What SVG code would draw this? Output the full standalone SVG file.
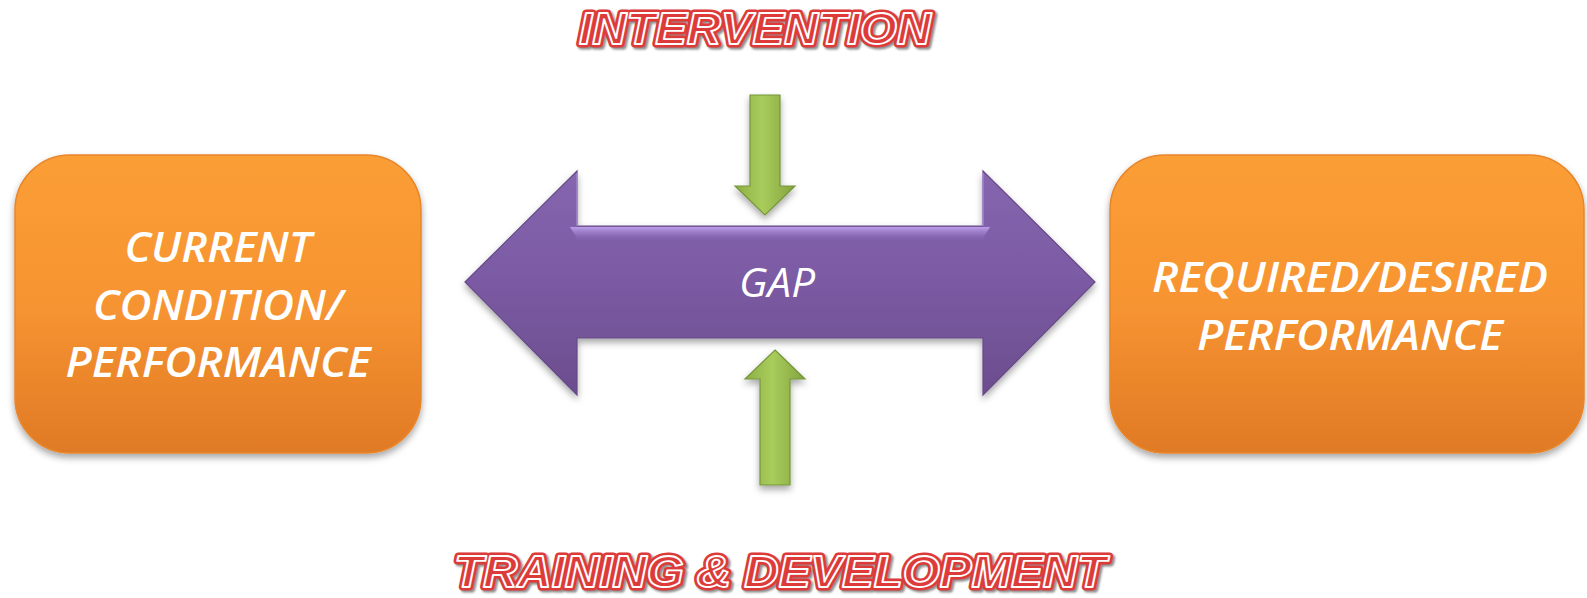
<svg xmlns="http://www.w3.org/2000/svg" width="1587" height="598" viewBox="0 0 1587 598">
  <defs>
    <linearGradient id="gOrange" x1="0" y1="0" x2="0" y2="1">
      <stop offset="0" stop-color="#FB9E36"/>
      <stop offset="0.5" stop-color="#F79431"/>
      <stop offset="1" stop-color="#E07A26"/>
    </linearGradient>
    <linearGradient id="gPurple" x1="0" y1="0" x2="0" y2="1">
      <stop offset="0" stop-color="#8566AF"/>
      <stop offset="0.5" stop-color="#7B5AA3"/>
      <stop offset="1" stop-color="#6B4D8D"/>
    </linearGradient>
    <linearGradient id="gPurpleHi" x1="0" y1="0" x2="0" y2="1">
      <stop offset="0" stop-color="#C3A6F0" stop-opacity="0.9"/>
      <stop offset="1" stop-color="#9A7BCB" stop-opacity="0"/>
    </linearGradient>
    <linearGradient id="gGreen" x1="0" y1="0" x2="1" y2="0">
      <stop offset="0" stop-color="#8DAE45"/>
      <stop offset="0.45" stop-color="#A9CD5C"/>
      <stop offset="1" stop-color="#83A33F"/>
    </linearGradient>
    <filter id="shadow" x="-10%" y="-10%" width="120%" height="125%">
      <feDropShadow dx="0" dy="4" stdDeviation="3.5" flood-color="#000" flood-opacity="0.35"/>
    </filter>
    <filter id="tshadow" x="-5%" y="-20%" width="110%" height="150%">
      <feGaussianBlur stdDeviation="1"/>
    </filter>
  </defs>
  <style>
    .box { fill: url(#gOrange); stroke: #E8862C; stroke-width: 1.5; filter: url(#shadow); }
    .boxText { font-family: "Open Sans", "Liberation Sans", sans-serif; font-weight: 600; font-style: italic; font-size: 42px; fill: #FFFFFF; text-anchor: middle; }
    .gapText { font-family: "Open Sans", "Liberation Sans", sans-serif; font-style: italic; font-size: 40px; fill: #FFFFFF; text-anchor: middle; }
    .green { fill: url(#gGreen); stroke: #76963A; stroke-width: 1.2; stroke-linejoin: miter; filter: url(#shadow); }
    .purple { fill: url(#gPurple); stroke: #674A88; stroke-width: 1.2; filter: url(#shadow); }
    .redTitle { font-family: "Liberation Sans", Arial, sans-serif; font-weight: bold; font-style: italic; font-size: 44px; text-anchor: middle; }
    .rShadow { fill: #8A8A8A; stroke: #8A8A8A; stroke-width: 7; stroke-linejoin: round; filter: url(#tshadow); }
    .rOuter { fill: #DC3B3A; stroke: #DC3B3A; stroke-width: 7; stroke-linejoin: round; }
    .rInner { fill: #DC3B3A; stroke: #FFFFFF; stroke-width: 1.8; stroke-linejoin: round; }
  </style>

  <rect width="1587" height="598" fill="#FFFFFF"/>

  <g id="node-current">
    <rect class="box" x="15" y="155" width="406" height="298" rx="55" ry="55"/>
    <text class="boxText" x="218" y="262" textLength="187" lengthAdjust="spacingAndGlyphs">CURRENT</text>
    <text class="boxText" x="218" y="320" textLength="250" lengthAdjust="spacingAndGlyphs">CONDITION/</text>
    <text class="boxText" x="218" y="377" textLength="305" lengthAdjust="spacingAndGlyphs">PERFORMANCE</text>
  </g>

  <g id="node-required">
    <rect class="box" x="1110" y="155" width="474" height="298" rx="55" ry="55"/>
    <text class="boxText" x="1350" y="292" textLength="396" lengthAdjust="spacingAndGlyphs">REQUIRED/DESIRED</text>
    <text class="boxText" x="1350" y="350" textLength="306" lengthAdjust="spacingAndGlyphs">PERFORMANCE</text>
  </g>

  <g id="node-gap">
    <path class="purple" d="M465,282 L577,171 L577,226 L983,226 L983,171 L1095,282 L983,395 L983,338 L577,338 L577,395 Z"/>
    <path d="M570,227 L990,227 L982,240 L578,240 Z" fill="url(#gPurpleHi)"/>
    <path d="M577,173 L577,226 M983,173 L983,226" stroke="#A68AD2" stroke-width="1.5" fill="none"/>
    <text class="gapText" x="777" y="297" textLength="76" lengthAdjust="spacingAndGlyphs">GAP</text>
  </g>

  <g id="label-intervention">
    <text class="redTitle rShadow" x="757" y="46" textLength="352" lengthAdjust="spacingAndGlyphs">INTERVENTION</text>
    <text class="redTitle rOuter" x="755" y="44" textLength="352" lengthAdjust="spacingAndGlyphs">INTERVENTION</text>
    <text class="redTitle rInner" x="755" y="44" textLength="352" lengthAdjust="spacingAndGlyphs">INTERVENTION</text>
  </g>

  <g id="label-training">
    <text class="redTitle rShadow" x="782" y="589" textLength="652" lengthAdjust="spacingAndGlyphs">TRAINING &amp; DEVELOPMENT</text>
    <text class="redTitle rOuter" x="780" y="587" textLength="652" lengthAdjust="spacingAndGlyphs">TRAINING &amp; DEVELOPMENT</text>
    <text class="redTitle rInner" x="780" y="587" textLength="652" lengthAdjust="spacingAndGlyphs">TRAINING &amp; DEVELOPMENT</text>
  </g>

  <g id="connectors">
    <path id="arrow-intervention" class="green" d="M750,95 L780,95 L780,186 L795,186 L765,215 L735,186 L750,186 Z"/>
    <path id="arrow-training" class="green" d="M775,350 L805,379 L790,379 L790,485 L760,485 L760,379 L745,379 Z"/>
  </g>
</svg>
